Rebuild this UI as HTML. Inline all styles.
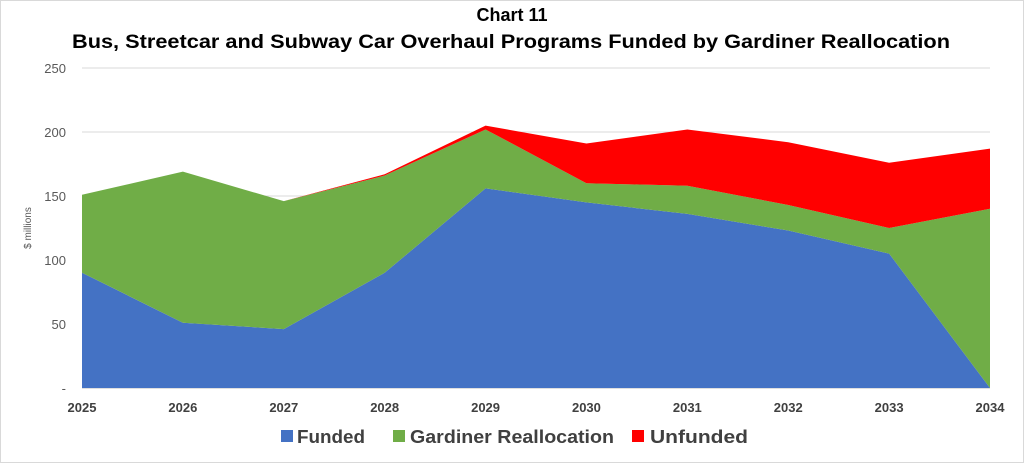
<!DOCTYPE html>
<html><head><meta charset="utf-8"><style>
body{margin:0;background:#fff;font-family:"Liberation Sans",Arial,sans-serif;}
svg{display:block}
</style></head><body>
<svg width="1024" height="463" id="c">
<rect x="0.5" y="0.5" width="1023" height="462" fill="#fff" stroke="#d9d9d9"/>
<text x="512" y="21" text-anchor="middle" font-size="18" font-weight="bold">Chart 11</text>
<text x="72" y="48" font-size="19" font-weight="bold" textLength="878" lengthAdjust="spacingAndGlyphs">Bus, Streetcar and Subway Car Overhaul Programs Funded by Gardiner Reallocation</text>
<text transform="translate(31,228) rotate(-90)" text-anchor="middle" font-size="10" fill="#595959">$ millions</text>
<g id="grid"></g><g id="areas"></g><g id="ticks"></g>
<g font-size="18" font-weight="bold" fill="#404040">
<rect x="281" y="430" width="12" height="12" fill="#4472c4"/>
<text x="297" y="443" textLength="68" lengthAdjust="spacingAndGlyphs">Funded</text>
<rect x="393" y="430" width="12" height="12" fill="#70ad47"/>
<text x="410" y="443" textLength="204" lengthAdjust="spacingAndGlyphs">Gardiner Reallocation</text>
<rect x="632" y="430" width="12" height="12" fill="#ff0000"/>
<text x="650" y="443" textLength="98" lengthAdjust="spacingAndGlyphs">Unfunded</text>
</g>
</svg>
<script>
const years=["2025","2026","2027","2028","2029","2030","2031","2032","2033","2034"];
const funded=[90,51,46,90,156,145,136,123,105,0];
const gardiner=[61,118,100,76,46,15,22,20,20,140];
const unfunded=[0,0,0,1,3,31,44,49,51,47];
const yTicks=[0,50,100,150,200,250];
const yTickLabels=["-","50","100","150","200","250"];
const NS="http://www.w3.org/2000/svg";
const x0=82,x1=990,yBase=388,yTop=68,yMax=250;
function xs(i){return x0+(x1-x0)*i/(years.length-1);}
function ys(v){return yBase-(yBase-yTop)*v/yMax;}
const grid=document.getElementById('grid'),areas=document.getElementById('areas'),ticks=document.getElementById('ticks');
yTicks.forEach((t,i)=>{
 const l=document.createElementNS(NS,'line');
 l.setAttribute('x1',x0);l.setAttribute('x2',x1);l.setAttribute('y1',ys(t));l.setAttribute('y2',ys(t));
 l.setAttribute('stroke',i==0?'#bfbfbf':'#d9d9d9');
 
 
 grid.appendChild(l);
 const tx=document.createElementNS(NS,'text');
 tx.setAttribute('x',66);tx.setAttribute('y',ys(t)+5);tx.setAttribute('text-anchor','end');
 tx.setAttribute('font-size','13');tx.setAttribute('fill','#595959');tx.textContent=yTickLabels[i];
 
 
 ticks.appendChild(tx);
});
years.forEach((y,i)=>{
 const tx=document.createElementNS(NS,'text');
 tx.setAttribute('x',xs(i));tx.setAttribute('y',412);tx.setAttribute('text-anchor','middle');
 tx.setAttribute('font-size','13');tx.setAttribute('font-weight','bold');tx.setAttribute('fill','#404040');tx.textContent=y;
 
 
 ticks.appendChild(tx);
});
const series=[[funded,'#4472c4','area-funded'],[gardiner,'#70ad47','area-gardiner'],[unfunded,'#ff0000','area-unfunded']];
let base=years.map(()=>0);
series.forEach(([vals,col,name])=>{
 const top=base.map((b,i)=>b+vals[i]);
 let d='M'+top.map((v,i)=>xs(i)+','+ys(v)).join(' L');
 for(let i=years.length-1;i>=0;i--) d+=' L'+xs(i)+','+ys(base[i]);
 d+='Z';
 const p=document.createElementNS(NS,'path');
 p.setAttribute('d',d);p.setAttribute('fill',col);
 
 
 areas.appendChild(p);
 base=top;
});
</script>
</body></html>
